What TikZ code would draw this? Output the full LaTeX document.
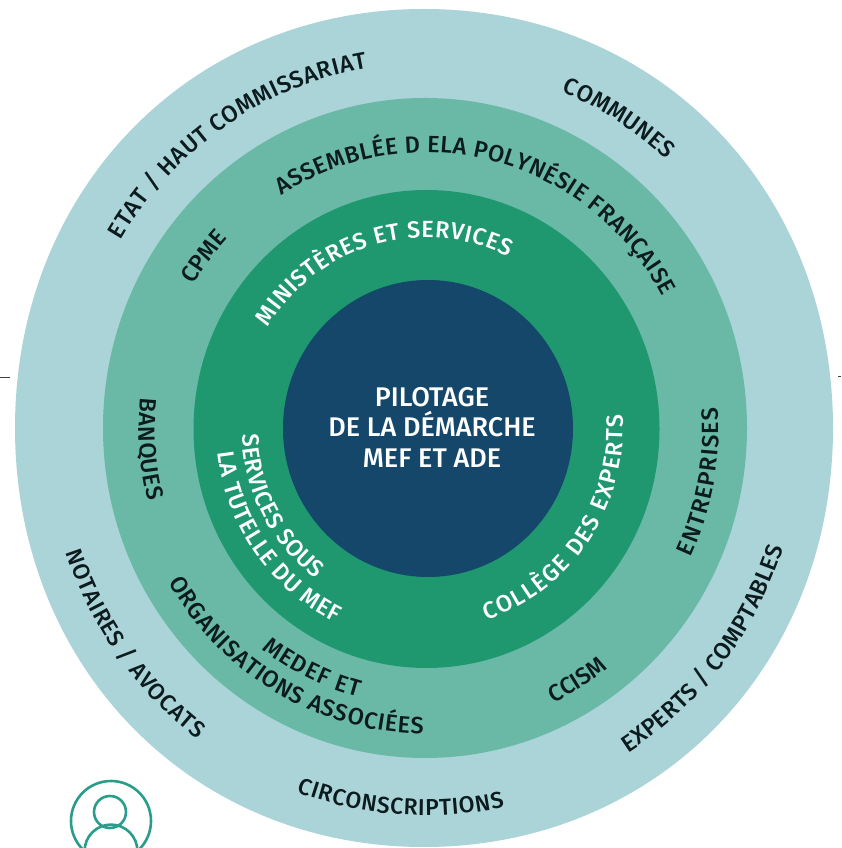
\documentclass[tikz,border=0pt]{standalone}
\usepackage{fontspec}
\setmainfont{Fira Sans Medium}
\usetikzlibrary{decorations.text}
\definecolor{ringA}{HTML}{ABD4D9}
\definecolor{ringB}{HTML}{69B9A6}
\definecolor{ringC}{HTML}{1F9870}
\definecolor{ringD}{HTML}{14476A}
\definecolor{inkdark}{HTML}{0B1B1E}
\definecolor{icon}{HTML}{2A9D8A}
\newcommand{\arclabel}[6]{%
  \path[decorate,decoration={text along path,text align={fit to path},
    text={|\color{#1}\fontsize{#6}{#6}\selectfont|#5}}]
    ({426+#2*cos(#3)},{420+1.025*#2*sin(#3)})
    arc[x radius=#2pt,y radius={1.025*#2pt},start angle=#3,end angle=#4];}
\begin{document}
\begin{tikzpicture}[x=1pt,y=1pt,
  iconline/.style={draw=icon,line width=2.6pt}]
\useasboundingbox (0,0) rectangle (841,848);
\clip (0,0) rectangle (841,848);
\fill[white] (0,0) rectangle (841,848);
% outer disc: slightly fuller than a true ellipse
\fill[ringA] (833,420) .. controls (833,658.8) and (657,839) .. (424,839)
  .. controls (191,839) and (15,658.8) .. (15,420)
  .. controls (15,181.2) and (191,1) .. (424,1)
  .. controls (657,1) and (833,181.2) .. (833,420) -- cycle;
\fill[ringB] (425,420) ellipse [x radius=322pt,y radius=330pt];
\fill[ringC] (426.5,419) ellipse [x radius=233pt,y radius=239pt];
\fill[ringD] (428,419.5) ellipse [x radius=145pt,y radius=148.5pt];
\coordinate (tickLa) at (0,471);
\coordinate (tickLb) at (10,471);
\coordinate (tickRa) at (838,472);
\coordinate (tickRb) at (841,472);
\draw[black!75,line width=0.7pt] (tickLa) -- (tickLb);
\draw[black!75,line width=0.7pt] (tickRa) -- (tickRb);
\node[text=white,align=center,font=\fontsize{27}{30.5}\selectfont,inner sep=0pt] (pilotage) at (432,421) {PILOTAGE\\DE LA DÉMARCHE\\MEF ET ADE};
\arclabel{inkdark}{356}{149}{99.5}{ETAT / HAUT COMMISSARIAT}{23.5}
\arclabel{inkdark}{355}{67.5}{47.5}{COMMUNES}{23.5}
\arclabel{inkdark}{269}{122.5}{28.5}{ASSEMBLÉE D ELA POLYNÉSIE FRANÇAISE}{23.5}
\arclabel{inkdark}{271}{149}{137}{CPME}{23.5}
\arclabel{white}{186}{148.2}{63.8}{MINISTÈRES ET SERVICES}{23.5}
\arclabel{inkdark}{287}{174}{194.5}{BANQUES}{23.5}
\arclabel{inkdark}{298.5}{210.3}{269.5}{ORGANISATIONS ASSOCIÉES}{23.5}
\arclabel{inkdark}{271}{232.7}{255.5}{MEDEF ET}{23.5}
\arclabel{inkdark}{378}{250}{282}{CIRCONSCRIPTIONS}{23}
\arclabel{inkdark}{380}{198.6}{233}{NOTAIRES / AVOCATS}{23}
\arclabel{inkdark}{297}{-64.6}{-52.3}{CCISM}{23.5}
\arclabel{inkdark}{376}{-57.5}{-18.2}{EXPERTS / COMPTABLES}{23.5}
\arclabel{inkdark}{293}{-25.5}{3.9}{ENTREPRISES}{23.5}
\arclabel{white}{197}{-72}{3.9}{COLLÈGE DES EXPERTS}{23.5}
\arclabel{white}{184}{182}{233.2}{SERVICES SOUS}{23.5}
\arclabel{white}{210}{186.5}{244.5}{LA TUTELLE DU MEF}{23.5}
\draw[iconline] (111,27) circle [radius=40pt];
\draw[iconline] (110,36) circle [radius=16pt];
\draw[iconline] (111,-3) circle [radius=26.4pt];
\end{tikzpicture}
\end{document}
